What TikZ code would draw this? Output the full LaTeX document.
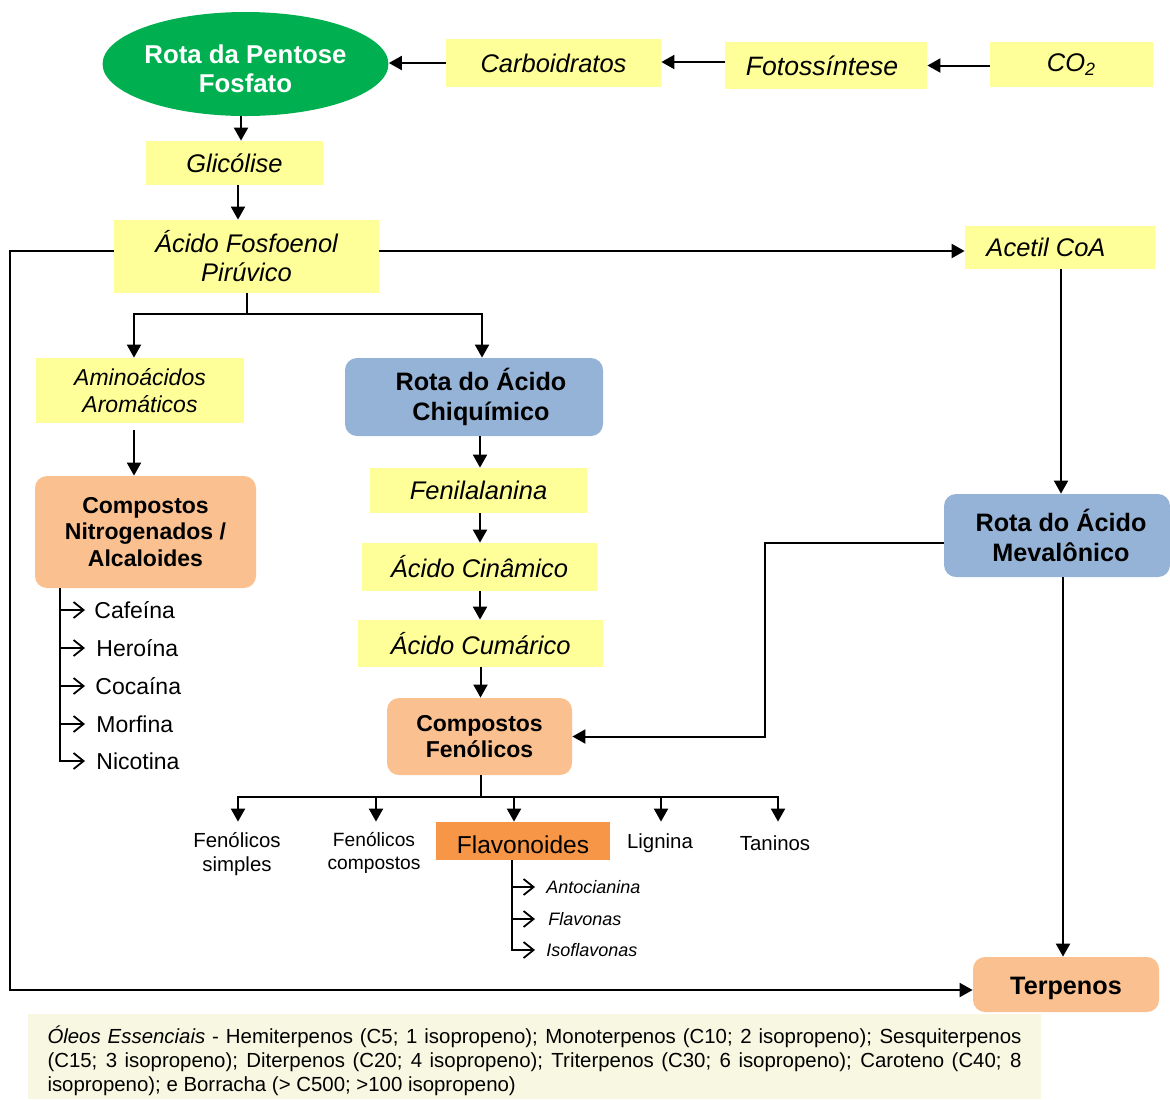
\documentclass[tikz,border=0pt]{standalone}
\usepackage{fontspec}
\setmainfont{Liberation Sans}
\usetikzlibrary{arrows.meta,shapes.geometric,calc}
\definecolor{yel}{HTML}{FFFF99}
\definecolor{org}{HTML}{FAC090}
\definecolor{blu}{HTML}{95B3D7}
\definecolor{grn}{HTML}{00B050}
\definecolor{flv}{HTML}{F79646}
\definecolor{cream}{HTML}{F8F8E2}
\newcommand\myitl{\fontsize{12.75}{14.5}\selectfont\itshape}
\newcommand\myitls{\fontsize{11.5}{13.5}\selectfont\itshape}
\newcommand\myboldb{\fontsize{11.5}{13.2}\selectfont\bfseries}
\newcommand\mybigb{\fontsize{12.6}{15}\selectfont\bfseries}
\newcommand\mypent{\fontsize{12.9}{14.5}\selectfont\bfseries}
\newcommand\mylist{\fontsize{11.5}{13.5}\selectfont}
\newcommand\mypt{\fontsize{10.2}{12}\selectfont}
\newcommand\myptsm{\fontsize{9.6}{11.5}\selectfont}
\newcommand\myflav{\fontsize{12.25}{14}\selectfont}
\newcommand\mysmall{\fontsize{9}{11}\selectfont}
\newcommand\mynotefont{\fontsize{10.2}{12}\selectfont}
\newcommand\mylower[2]{\raisebox{-#1}[\height][\depth]{#2}}
\tikzset{
 arr/.style={line width=1pt,-{Triangle[length=6.5pt,width=7pt]}},
 ln/.style={line width=1pt},
 oarr/.style={line width=0.9pt,-{Straight Barb[length=5pt,width=8pt]}},
 ybox/.style={fill=yel,inner sep=0,align=center,font=\myitl},
 obox/.style={fill=org,rounded corners=6pt,inner sep=0,align=center,font=\myboldb},
 bbox/.style={fill=blu,rounded corners=6pt,inner sep=0,align=center,font=\mybigb},
 litem/.style={anchor=west,inner sep=0,font=\mylist},
 flitem/.style={anchor=west,inner sep=0,font=\mysmall\itshape},
 ptxt/.style={inner sep=0,align=center,font=\mypt},
}
\begin{document}
\begin{tikzpicture}[x=0.5pt,y=-0.5pt]
\useasboundingbox (0,0) rectangle (1170,1099);
% nodes
\node[ellipse,fill=grn,minimum width=139.5pt,minimum height=52pt,inner sep=0,text=white,font=\mypent] (pent) at (245.5,64) {\mylower{4pt}{\begin{tabular}{@{}c@{}}Rota da Pentose\\Fosfato\end{tabular}}};
\node[ybox,minimum width=107.5pt,minimum height=24pt] (carb) at (553.5,63) {Carboidratos};
\node[ybox,font=\fontsize{13.3}{15}\selectfont\itshape,minimum width=101pt,minimum height=23.5pt] (foto) at (826,65.5) {Fotossíntese\hspace*{4pt}};
\node[ybox,minimum width=81.5pt,minimum height=22.5pt] (co2) at (1071.5,64.5) {CO\textsubscript{2}};
\node[ybox,minimum width=88.5pt,minimum height=22pt] (glic) at (234.5,163) {Glicólise};
\node[ybox,minimum width=132.5pt,minimum height=36.5pt] (afp) at (246.5,256.5) {Ácido Fosfoenol\\Pirúvico};
\node[ybox,minimum width=95pt,minimum height=21.5pt] (acetil) at (1060,247.5) {Acetil CoA\hspace*{14pt}};
\node[ybox,font=\myitls,minimum width=104pt,minimum height=32.5pt] (amino) at (140,390.5) {Aminoácidos\\Aromáticos};
\node[obox,minimum width=110.5pt,minimum height=56pt] (nitro) at (145.5,532) {Compostos\\Nitrogenados /\\Alcaloides};
\node[bbox,minimum width=129pt,minimum height=39pt] (chiq) at (474,397) {\hspace*{7pt}Rota do Ácido\\\hspace*{7pt}Chiquímico};
\node[ybox,minimum width=108.5pt,minimum height=22.5pt] (fenil) at (478.5,490.5) {Fenilalanina};
\node[ybox,minimum width=117.5pt,minimum height=24pt] (cinam) at (479.5,567) {Ácido Cinâmico};
\node[ybox,minimum width=122.5pt,minimum height=23.5pt] (cumar) at (480.5,643.5) {Ácido Cumárico};
\node[obox,minimum width=92.5pt,minimum height=38.5pt] (fenol) at (479.5,736.5) {Compostos\\Fenólicos};
\node[bbox,minimum width=113pt,minimum height=41.5pt] (meva) at (1057,535.5) {\hspace*{4pt}Rota do Ácido\\\hspace*{4pt}Mevalônico};
\node[obox,font=\mybigb,minimum width=93pt,minimum height=27.5pt] (terp) at (1066,984.5) {\mylower{2pt}{Terpenos}};
\node[fill=flv,inner sep=0,minimum width=87pt,minimum height=19pt,font=\myflav] (flav) at (523,841) {\mylower{2pt}{Flavonoides}};
\node[ptxt] (fsimp) at (237,854) {Fenólicos\\simples};
\node[ptxt,font=\myptsm] (fcomp) at (374,852.5) {Fenólicos\\compostos};
\node[ptxt] (lign) at (660,843) {Lignina};
\node[ptxt] (tan) at (775,843) {Taninos};
% list items
\node[litem] (caf) at (94,610) {Cafeína};
\node[litem] (her) at (96,648) {Heroína};
\node[litem] (coc) at (95,686) {Cocaína};
\node[litem] (mor) at (96,724) {Morfina};
\node[litem] (nic) at (96,761) {Nicotina};
\node[flitem] (anto) at (546,887) {Antocianina};
\node[flitem] (flavo) at (548,919) {Flavonas};
\node[flitem] (iso) at (546,950) {Isoflavonas};
% note
\node[fill=cream,minimum width=506.5pt,minimum height=42.5pt,inner xsep=9.75pt,inner ysep=0,font=\mynotefont] (note) at (534.5,1056.5) {\mylower{2pt}{\parbox{487pt}{\mynotefont\textit{Óleos Essenciais} - Hemiterpenos (C5; 1 isopropeno); Monoterpenos (C10; 2 isopropeno); Sesquiterpenos\linebreak (C15; 3 isopropeno); Diterpenos (C20; 4 isopropeno); Triterpenos (C30; 6 isopropeno); Caroteno (C40; 8\linebreak isopropeno); e Borracha (> C500; >100 isopropeno)}}};
% coordinates
\coordinate (ntr) at (60,588);
\coordinate (ftr) at (512,860);
\coordinate (lx) at (10,0);
\coordinate (mx) at (765,0);
% connectors top
\draw[arr] (carb.west) -- (carb.west -| pent.east);
\draw[arr] ([yshift=0.5pt]foto.west |- carb.east) -- ([yshift=0.5pt]carb.east);
\draw[arr] (co2.west |- foto.east) -- (foto.east);
\draw[arr] ([xshift=-2.25pt]pent.south) -- ([xshift=-2.25pt]pent.south |- glic.north);
\draw[arr] ([xshift=1.75pt]glic.south) -- ([xshift=1.75pt]glic.south |- afp.north);
\draw[arr] ([yshift=2.75pt]afp.east) -- ([yshift=2.75pt]afp.east -| acetil.west);
\draw[arr] ([yshift=2.75pt]afp.west) -| ([yshift=-2.75pt]lx |- terp.west) -- ([yshift=-2.75pt]terp.west);
% branch to amino and chiq
\draw[ln] (afp.south) -- ++(0,21) coordinate (br);
\draw[arr] (br) -| ([xshift=-3pt]amino.north);
\draw[arr] (br) -| ([xshift=4pt]chiq.north);
\draw[arr] ([xshift=-3pt,yshift=-3.5pt]amino.south) -- ([xshift=-3pt]amino.south |- nitro.north);
% alkaloid list
\draw[ln] (ntr) -- (ntr |- nic.west);
\draw[oarr] (ntr |- caf.west) -- ([xshift=-4.5pt]caf.west);
\draw[oarr] (ntr |- her.west) -- ([xshift=-5.5pt]her.west);
\draw[oarr] (ntr |- coc.west) -- ([xshift=-5pt]coc.west);
\draw[oarr] (ntr |- mor.west) -- ([xshift=-5.5pt]mor.west);
\draw[oarr] (ntr) |- ([xshift=-5.5pt]nic.west);
% chiquimico chain
\draw[arr] ([xshift=3pt]chiq.south) -- ([xshift=3pt]chiq.south |- fenil.north);
\draw[arr] ([xshift=0.75pt]fenil.south) -- ([xshift=0.75pt]fenil.south |- cinam.north);
\draw[arr] ([xshift=0.25pt]cinam.south) -- ([xshift=0.25pt]cinam.south |- cumar.north);
\draw[arr] (cumar.south) -- (cumar.south |- fenol.north);
% fenolicos branches
\draw[ln] ([xshift=0.75pt]fenol.south) -- ++(0,22) coordinate (fb);
\draw[arr] (fb) -| ([xshift=0.5pt]fsimp.north |- flav.north);
\draw[arr] (fb) -| ([xshift=1pt]fcomp.north |- flav.north);
\draw[arr] (fb) -| ([xshift=-4.5pt]flav.north);
\draw[arr] (fb) -| ([xshift=0.5pt]lign.north |- flav.north);
\draw[arr] (fb) -| ([xshift=1.5pt]tan.north |- flav.north);
% flavonoid list
\draw[oarr] (ftr |- anto.west) -- ([xshift=-5.5pt]anto.west);
\draw[oarr] (ftr |- flavo.west) -- ([xshift=-6.5pt]flavo.west);
\draw[oarr] (ftr) |- ([xshift=-5.5pt]iso.west);
% mevalonico
\draw[arr] ([xshift=0.5pt]acetil.south) -- ([xshift=0.5pt]acetil.south |- meva.north);
\draw[arr] ([yshift=-3.75pt]meva.west) -| (mx |- fenol.east) -- (fenol.east);
\draw[arr] ([xshift=3pt]meva.south) -- ([xshift=3pt]meva.south |- terp.north);
\end{tikzpicture}
\end{document}
